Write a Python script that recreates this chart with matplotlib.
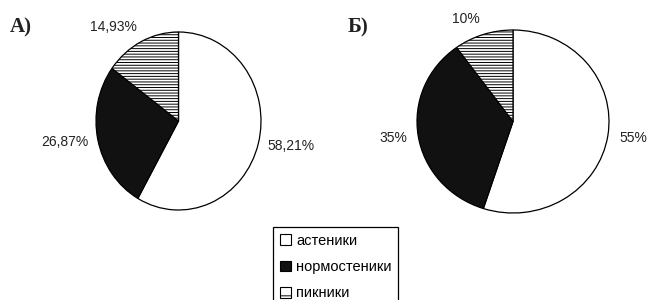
import matplotlib
matplotlib.use("Agg")
import matplotlib.pyplot as plt
from matplotlib.patches import Patch

plt.rcParams['font.family'] = ['Liberation Sans', 'DejaVu Sans']
plt.rcParams['hatch.linewidth'] = 0.7

# data
categories = ['астеники', 'нормостеники', 'пикники']
values_a = [58.21, 26.87, 14.93]
labels_a = ['58,21%', '26,87%', '14,93%']
values_b = [55, 35, 10]
labels_b = ['55%', '35%', '10%']
panel_titles = ['А)', 'Б)']

colors = ['white', '#111111', 'white']
hatches = ['', '', '------']

W, H = 647, 300
fig = plt.figure(figsize=(W / 100, H / 100), dpi=100)


def px_axes(x0, y0, x1, y1):
    # rectangle given in pixel coords (top-left origin)
    return fig.add_axes([x0 / W, 1 - y1 / H, (x1 - x0) / W, (y1 - y0) / H])


def draw_pie(ax, values, labels, dist):
    wedges, texts = ax.pie(values, labels=labels, colors=colors, startangle=90,
                           counterclock=False, labeldistance=dist,
                           wedgeprops={'edgecolor': 'black', 'linewidth': 0.9,
                                       'clip_on': False},
                           textprops={'fontsize': 10, 'color': '#222222'})
    for w, h in zip(wedges, hatches):
        w.set_hatch(h)
    ax.set_aspect('auto')
    ax.set_xlim(-1, 1)
    ax.set_ylim(-1, 1)
    return texts


ax_a = px_axes(96, 32, 261, 210)
texts_a = draw_pie(ax_a, values_a, labels_a, 1.12)
ax_b = px_axes(417, 30, 609, 213)
texts_b = draw_pie(ax_b, values_b, labels_b, 1.12)
# small label of the top slice sits a bit higher
for t in (texts_a[2], texts_b[2]):
    x, y = t.get_position()
    t.set_position((x, y + 0.06))

fig.text(10 / W, 1 - 27 / H, panel_titles[0], family='Liberation Serif',
         fontweight='bold', fontsize=15, va='center', ha='left', color='#222222')
fig.text(348 / W, 1 - 27 / H, panel_titles[1], family='Liberation Serif',
         fontweight='bold', fontsize=15, va='center', ha='left', color='#222222')

handles = [Patch(facecolor=c, edgecolor='black', hatch=hh, linewidth=0.8)
           for c, hh in zip(colors, ['', '', '--'])]
leg = fig.legend(handles, categories, loc='upper left',
                 bbox_to_anchor=(273 / W, 1 - 227 / H), borderaxespad=0,
                 fancybox=False, edgecolor='black', framealpha=1,
                 fontsize=10.5, handlelength=0.75, handleheight=0.75,
                 handletextpad=0.4, labelspacing=0.85, borderpad=0.45)
leg.get_frame().set_linewidth(0.9)

fig.savefig('out.png', dpi=100)
